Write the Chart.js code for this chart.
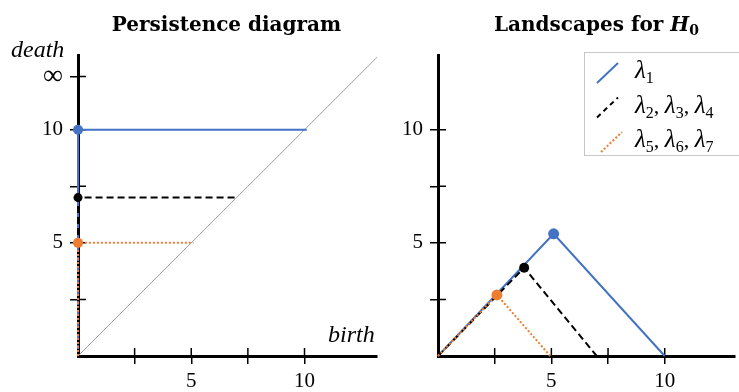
<!DOCTYPE html>
<html>
<head>
<meta charset="utf-8">
<title>Persistence diagram and landscapes</title>
<script src="https://cdn.jsdelivr.net/npm/chart.js"></script>
<style>
  html, body { margin: 0; padding: 0; background: #fff; }
  #wrap { position: relative; width: 739px; height: 392px; overflow: hidden; }
  #left { position: absolute; left: 0; top: 0; width: 380px; height: 392px; }
  #right { position: absolute; left: 380px; top: 0; width: 359px; height: 392px; }
</style>
</head>
<body>
<div id="wrap">
  <div id="left"><canvas id="pdChart"></canvas></div>
  <div id="right"><canvas id="lsChart"></canvas></div>
</div>
<script>
// persistence diagram (birth, death)
const diagX = [0, 13.2];
const diagY = [0, 13.2];
const bar1X = [0, 0, 10.1];   const bar1Y = [0, 10, 10];
const bar2X = [0, 0, 7];      const bar2Y = [0, 7, 7];
const bar3X = [0, 0, 5.1];    const bar3Y = [0, 5, 5];
const INF = 12.35;
const pdXTicks = [2.5, 5, 7.5, 10];
const pdXLabels = ['', '5', '', '10'];
const pdYTicks = [2.5, 5, 7.5, 10, INF];
const pdYLabels = ['', '5', '', '10', '∞'];

// landscapes for H0
const lam1X = [0, 5.1, 10];    const lam1Y = [0, 5.4, 0];
const lam2X = [0, 3.8, 7];     const lam2Y = [0, 3.9, 0];
const lam5X = [0, 2.6, 4.95];  const lam5Y = [0, 2.7, 0];
const lsXTicks = [2.5, 5, 7.5, 10];  const lsXLabels = ['', '5', '', '10'];
const lsYTicks = [2.5, 5, 7.5, 10];  const lsYLabels = ['', '5', '', '10'];
const legendSubs = [['1'], ['2', '3', '4'], ['5', '6', '7']];

const BLUE = '#4472C4', ORANGE = '#ED7D31', BLACK = '#000';
const pts = (xs, ys) => xs.map((x, i) => ({ x: x, y: ys[i] }));
const serif = '"Liberation Serif", serif';
// the infinity sign is set larger than the digits
const tickFont = c => ({ family: serif, size: (c.tick && c.tick.value === INF) ? 28 : 21 });

// draws a run of text pieces {t, f, dy}
function drawRun(ctx, parts, x, y, align) {
  let w = 0;
  parts.forEach(p => { ctx.font = p.f; w += ctx.measureText(p.t).width; });
  let cx = align === 'center' ? x - w / 2 : x;
  ctx.textAlign = 'left';
  ctx.textBaseline = 'alphabetic';
  parts.forEach(p => {
    ctx.font = p.f;
    ctx.fillText(p.t, cx, y + (p.dy || 0));
    cx += ctx.measureText(p.t).width;
  });
}

const decor = {
  id: 'decor',
  beforeDatasetsDraw(chart, args, opts) {
    // tick marks cross the axes: draw the inner halves
    const ctx = chart.ctx, a = chart.chartArea;
    const xs = chart.scales.x, ys = chart.scales.y;
    ctx.save();
    ctx.strokeStyle = '#000';
    ctx.lineWidth = 1.5;
    ctx.beginPath();
    xs.ticks.forEach(t => { const p = xs.getPixelForValue(t.value); ctx.moveTo(p, a.bottom); ctx.lineTo(p, a.bottom - 8); });
    ys.ticks.forEach(t => { const p = ys.getPixelForValue(t.value); ctx.moveTo(a.left, p); ctx.lineTo(a.left + 8, p); });
    ctx.stroke();
    ctx.restore();
  },
  afterDraw(chart, args, opts) {
    const ctx = chart.ctx, a = chart.chartArea;
    ctx.save();
    ctx.fillStyle = '#000';
    drawRun(ctx, opts.title, (a.left + a.right) / 2 + (opts.titleShift || 0), 31, 'center');
    (opts.labels || []).forEach(l => drawRun(ctx, [{ t: l.t, f: 'italic 24px ' + serif }], l.x, l.y, 'left'));
    if (opts.legend) {
      const L = opts.legend;
      ctx.strokeStyle = '#c8c8c8';
      ctx.lineWidth = 1;
      ctx.strokeRect(L.x + 0.5, L.y + 0.5, 200, L.h);
      L.items.forEach((it, i) => {
        const yb = L.y + 26 + i * 34.5;
        ctx.strokeStyle = it.color;
        ctx.lineWidth = 2;
        ctx.setLineDash(it.dash);
        ctx.beginPath();
        ctx.moveTo(L.x + 13 + (it.sx || 0), yb + 5);
        ctx.lineTo(L.x + 34 + (it.sx || 0), yb - 15);
        ctx.stroke();
        ctx.setLineDash([]);
        ctx.fillStyle = '#000';
        const parts = [];
        it.subs.forEach((s, k) => {
          parts.push({ t: 'λ', f: 'italic 25px ' + serif });
          parts.push({ t: s, f: '16px ' + serif, dy: 5 });
          if (k < it.subs.length - 1) parts.push({ t: ', ', f: '22px ' + serif });
        });
        drawRun(ctx, parts, L.x + 51, yb, 'left');
      });
    }
    ctx.restore();
  }
};

function axes(xmax, ymax, xt, xl, yt, yl, yWidth) {
  const grid = { drawOnChartArea: false, drawTicks: true, tickLength: 8, color: '#000', lineWidth: 1.5 };
  const border = { display: true, color: '#000', width: 3 };
  return {
    x: {
      type: 'linear', min: 0, max: xmax,
      afterBuildTicks: s => { s.ticks = xt.map(v => ({ value: v })); },
      afterFit: s => { s.height = 36; },
      ticks: { callback: (v, i) => xl[i], font: tickFont, color: '#000', padding: 5, maxRotation: 0, autoSkip: false },
      grid: grid, border: border
    },
    y: {
      type: 'linear', min: 0, max: ymax,
      afterBuildTicks: s => { s.ticks = yt.map(v => ({ value: v })); },
      afterFit: s => { s.width = yWidth; },
      ticks: { callback: (v, i) => yl[i], font: tickFont, color: '#000', padding: 7, autoSkip: false },
      grid: grid, border: border
    }
  };
}

function lineSet(data, color, dash, radius, width) {
  return {
    data: data, showLine: true, borderColor: color, backgroundColor: color,
    borderWidth: width || 2, borderDash: dash, pointRadius: radius,
    pointBackgroundColor: color, pointBorderWidth: 0, pointHoverRadius: radius, clip: false
  };
}

const common = {
  animation: false, responsive: true, maintainAspectRatio: false,
  events: []
};

new Chart(document.getElementById('pdChart'), {
  type: 'scatter',
  data: {
    datasets: [
      lineSet(pts(bar3X, bar3Y), ORANGE, [2, 2], [0, 5, 0]),
      lineSet(pts(bar2X, bar2Y), BLACK, [7, 4], [0, 4.5, 0]),
      lineSet(pts(bar1X, bar1Y), BLUE, [], [0, 5, 0]),
      lineSet(pts(diagX, diagY), '#a0a0a0', [], 0, 1)
    ]
  },
  options: Object.assign({}, common, {
    layout: { padding: { top: 55, left: 0, right: 3, bottom: 0 } },
    scales: axes(13.2, 13.3, pdXTicks, pdXLabels, pdYTicks, pdYLabels, 78),
    plugins: {
      legend: { display: false }, tooltip: { enabled: false },
      decor: {
        title: [{ t: 'Persistence diagram', f: 'bold 20px "DejaVu Serif", serif' }],
        titleShift: -1,
        labels: [{ t: 'death', x: 11, y: 57 }, { t: 'birth', x: 328, y: 342 }]
      }
    }
  }),
  plugins: [decor]
});

new Chart(document.getElementById('lsChart'), {
  type: 'scatter',
  data: {
    datasets: [
      lineSet(pts(lam5X, lam5Y), ORANGE, [2, 2], [0, 5.5, 0]),
      lineSet(pts(lam2X, lam2Y), BLACK, [7, 4], [0, 5, 0]),
      lineSet(pts(lam1X, lam1Y), BLUE, [], [0, 5.5, 0])
    ]
  },
  options: Object.assign({}, common, {
    layout: { padding: { top: 55, left: 0, right: 4, bottom: 0 } },
    scales: axes(13.1, 13.3, lsXTicks, lsXLabels, lsYTicks, lsYLabels, 58),
    plugins: {
      legend: { display: false }, tooltip: { enabled: false },
      decor: {
        title: [
          { t: 'Landscapes for ', f: 'bold 20px "DejaVu Serif", serif' },
          { t: 'H', f: 'italic bold 20px "DejaVu Serif", serif' },
          { t: '0', f: 'bold 14px "DejaVu Serif", serif', dy: 4 }
        ],
        titleShift: 10,
        legend: {
          x: 204, y: 52, h: 103,
          items: [
            { color: BLUE, dash: [], subs: legendSubs[0] },
            { color: BLACK, dash: [5, 4], subs: legendSubs[1] },
            { color: ORANGE, dash: [2, 2], subs: legendSubs[2], sx: 4 }
          ]
        }
      }
    }
  }),
  plugins: [decor]
});
</script>
</body>
</html>
